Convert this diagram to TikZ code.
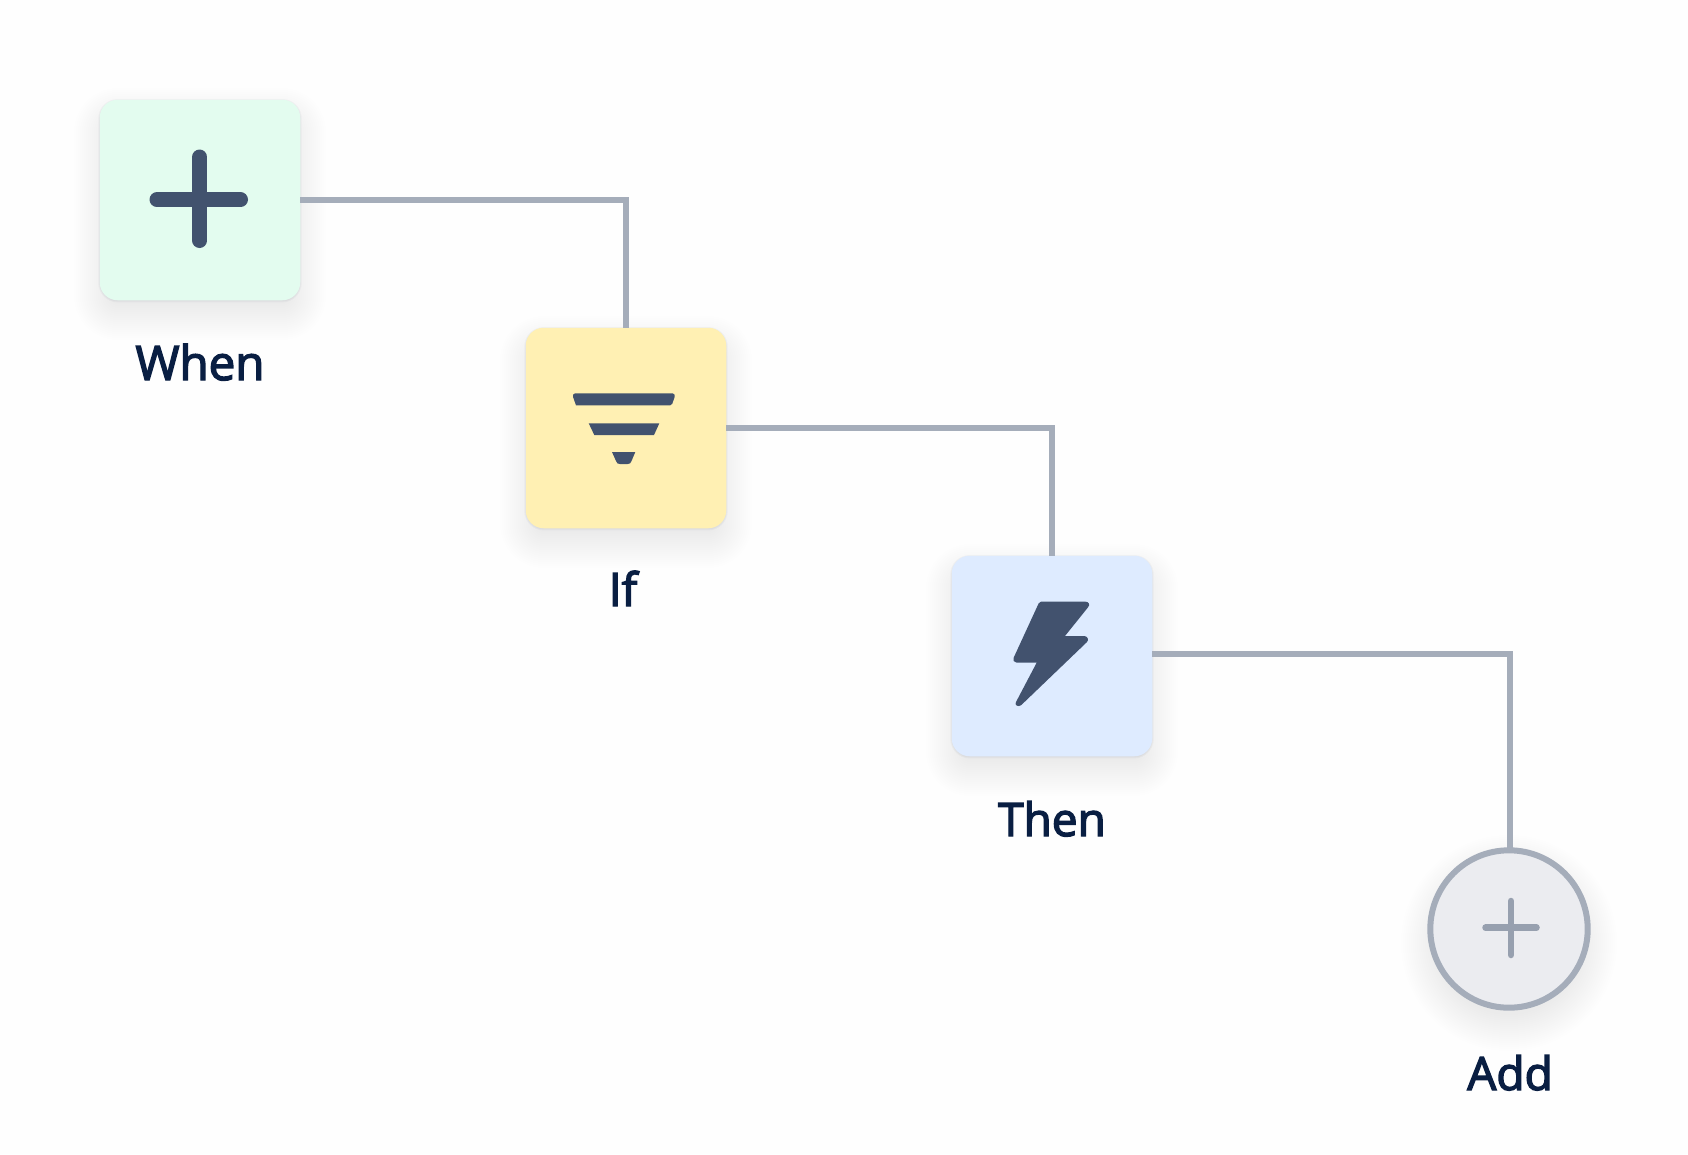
\documentclass[tikz,border=0pt]{standalone}
\usepackage{fontspec}
\setmainfont{Open Sans}[FakeBold=3]
\definecolor{ink}{HTML}{091E42}
\definecolor{icon}{HTML}{42526E}
\definecolor{wire}{HTML}{A5ADBA}
\definecolor{greenbg}{HTML}{E3FCEF}
\definecolor{yellowbg}{HTML}{FFF0B3}
\definecolor{bluebg}{HTML}{DEEBFF}
\definecolor{greybg}{HTML}{EBECF0}
\definecolor{greyplus}{HTML}{97A0AF}
\tikzset{
  x=1pt,y=-1pt,
  tile/.style={rounded corners=18pt,minimum size=200.5pt,inner sep=0pt,outer sep=0pt},
  addcircle/.style={circle,draw=wire,fill=greybg,line width=6pt,minimum size=157.4pt,inner sep=0pt,outer sep=3pt},
  caption/.style={anchor=base,text=ink,inner sep=0pt,font=\fontsize{46}{50}\selectfont},
  wireline/.style={draw=wire,line width=5.5pt,line join=miter},
  iconfill/.style={fill=icon,draw=none},
}
\newcommand{\tileshadow}[2]{%
  \foreach \r in {26,24,...,-10}{%
    \fill[ink,opacity=.0032,rounded corners={max(\r+18,2)*1pt}]
      (#1-100-\r,#2-100-\r+14) rectangle (#1+100+\r,#2+100+\r+14);
  }
  \foreach \r in {.5,1.5}{%
    \fill[ink,opacity=.03,rounded corners={(\r+18)*1pt}]
      (#1-100.2-\r,#2-100.2-\r+.7) rectangle (#1+100.2+\r,#2+100.2+\r+.7);
  }}
\begin{document}
\begin{tikzpicture}
\useasboundingbox (0,0) rectangle (1688,1154);
\fill[white!99.6!black] (0,0) rectangle (1688,1154);

% soft shadows
\tileshadow{200}{200}
\tileshadow{626}{428}
\tileshadow{1052}{656}
\foreach \r in {26,24,...,-10}{%
  \fill[ink,opacity=.0032] (1509,943) circle ({(82+\r)*1pt});
}

% nodes
\node[tile,fill=greenbg]  (when) at (200,200) {};
\node[tile,fill=yellowbg] (if)   at (626,428) {};
\node[tile,fill=bluebg]   (then) at (1052,656) {};
\node[addcircle]          (add)  at (1509,929) {};

\coordinate (thenport) at (1152,654);
\coordinate (addport)  at (1510,848);

% connectors
\draw[wireline] (when.east) -| (if.north);
\draw[wireline] (if.east) -| (then.north);
\draw[wireline] (thenport) -| (addport);

% labels
\node[caption,font=\fontsize{47.5}{50}\selectfont] (whenlabel) at (200,380) {When};
\node[caption] (iflabel)   at (623,606) {If};
\node[caption] (thenlabel) at (1052,836) {Then};
\node[caption] (addlabel)  at (1510,1090) {Add};

% plus icon
\draw[icon,line width=15pt,line cap=round] (157,199.7) -- (240.5,199.7);
\draw[icon,line width=15pt,line cap=round] (199.7,157) -- (199.7,240.5);

% funnel icon
\path[iconfill,rounded corners=1.5pt] (576,405.3) -- (572.7,396) -- (573.5,393.3)
   -- (674.2,393.3) -- (675,396) -- (671.7,405.3) [sharp corners] -- cycle;
\path[iconfill] (588.7,423.3) -- (659.3,423.3) -- (654,435) -- (594.3,435) -- cycle;
\path[iconfill] (612,452) -- (635.3,452) -- (631.5,461) .. controls (630.5,463.3) and (630,464) .. (627.5,464)
   -- (620,464) .. controls (617.5,464) and (617,463.3) .. (616,461) -- cycle;

% bolt icon
\begin{scope}[shift={(930,530)},x=.33333pt,y=-.33333pt]
  \path[iconfill]
    (333,215) -- (466,215) .. controls (477,215) and (481,224) .. (474,232) -- (405,318)
    -- (462,318) .. controls (473,318) and (478,330) .. (470,337) -- (274,525)
    .. controls (265,533) and (252,525) .. (258,516) -- (320,398) -- (260,398)
    .. controls (252,398) and (247,390) .. (251,383) -- (326,220) .. controls (327,217) and (329,215) .. (333,215) -- cycle;
\end{scope}

% small plus in the add circle
\draw[greyplus,line width=6.5pt,line cap=round] (1485.5,927.7) -- (1536.5,927.7);
\draw[greyplus,line width=6.5pt,line cap=round] (1511,901) -- (1511,955);
\end{tikzpicture}
\end{document}
